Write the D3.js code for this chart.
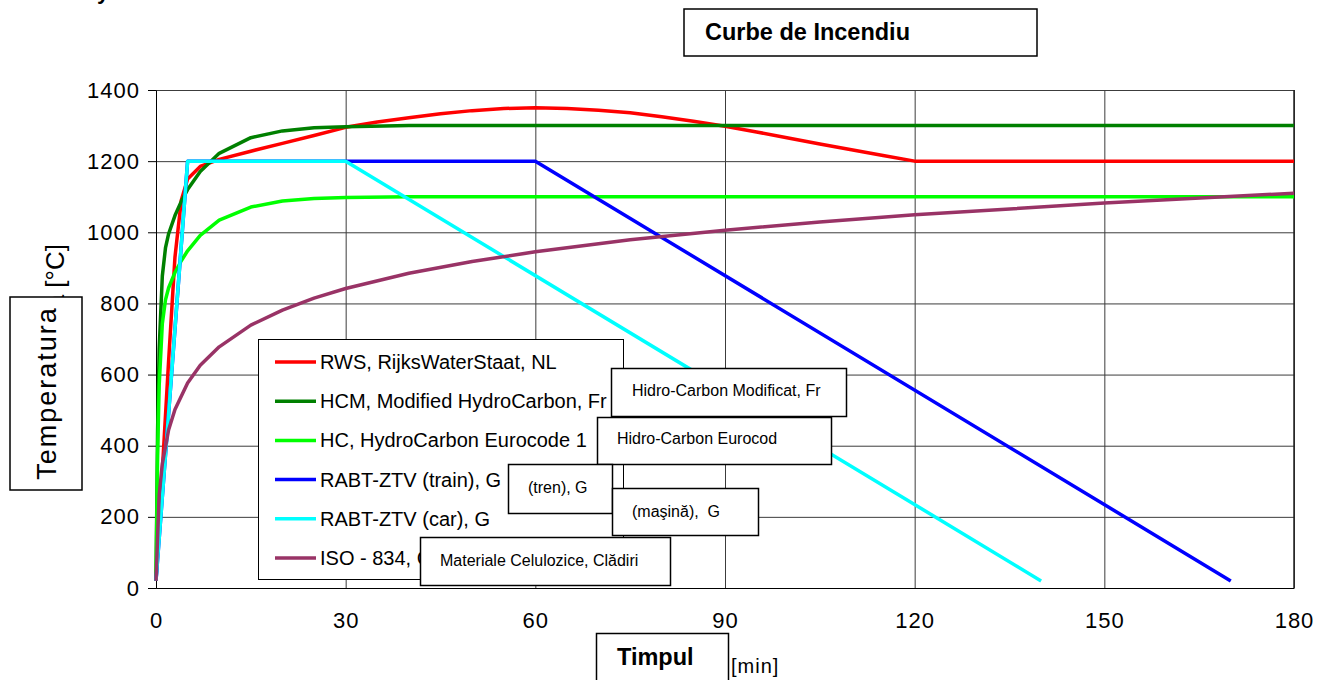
<!DOCTYPE html>
<html><head><meta charset="utf-8">
<script src="https://cdn.jsdelivr.net/npm/d3@7"></script>
<style>
body{margin:0;background:#fff;}
svg{display:block;font-family:Arial,"Liberation Sans",sans-serif;}
.pre{white-space:pre;}
</style>
</head><body>
<svg id="c" width="1325" height="680"></svg>
<script>
// ---------- data ----------
const timeTicks = [0, 30, 60, 90, 120, 150, 180];
const tempTicks = [0, 200, 400, 600, 800, 1000, 1200, 1400];

const seriesNames = [
  "RWS, RijksWaterStaat, NL",
  "HCM, Modified HydroCarbon, Fr",
  "HC, HydroCarbon Eurocode 1",
  "RABT-ZTV (train), G",
  "RABT-ZTV (car), G",
  "ISO - 834, Cellulosic"
];
const seriesColors = ["#ff0000", "#008000", "#00ff00", "#0000ff", "#00ffff", "#993366"];

const rwsTime = [0, 1, 2, 3, 4, 5, 7, 10, 15, 20, 25, 30, 35, 40, 45, 50, 55, 60, 65, 70, 75, 80, 85, 90, 95, 100, 105, 110, 115, 120, 180];
const rwsTemp = [20, 330, 640, 930, 1090, 1150, 1185, 1205, 1228, 1250, 1272, 1295, 1310, 1322, 1333, 1342, 1348, 1350, 1348, 1343, 1336, 1325, 1312, 1298, 1282, 1265, 1248, 1232, 1216, 1200, 1200];

const hcmTime = [0, 0.25, 0.5, 1, 1.5, 2, 3, 4, 5, 7, 10, 15, 20, 25, 30, 40, 180];
const hcmTemp = [20, 439, 670, 877, 956, 996, 1047, 1087, 1120, 1171, 1222, 1266, 1285, 1294, 1297, 1300, 1300];

const hcTime = [0, 0.25, 0.5, 1, 1.5, 2, 3, 4, 5, 7, 10, 15, 20, 25, 30, 40, 180];
const hcTemp = [20, 373, 568, 743, 810, 844, 887, 920, 948, 991, 1034, 1071, 1088, 1095, 1098, 1100, 1100];

const trainTime = [0, 5, 60, 170];
const trainTemp = [20, 1200, 1200, 20];

const carTime = [0, 5, 30, 140];
const carTemp = [20, 1200, 1200, 20];

const isoTime = [0, 0.5, 1, 2, 3, 5, 7, 10, 15, 20, 25, 30, 40, 50, 60, 75, 90, 105, 120, 150, 180];
const isoTemp = [20, 261, 349, 445, 502, 576, 626, 678, 739, 781, 815, 842, 885, 918, 945, 979, 1006, 1029, 1049, 1082, 1110];

const chartTitle = "Curbe de Incendiu";
const yTitle = "Temperatura";
const yUnitTitle = "Temperatura [°C]";
const xTitle = "Timpul";
const xUnit = "[min]";
const noteLabels = ["Hidro-Carbon Modificat, Fr", "Hidro-Carbon Eurocod", "(tren), G", "(maşină),  G", "Materiale Celulozice, Clădiri"];

// ---------- layout ----------
const L = 156, R = 1294, T = 90, B = 588;
const FONT = "Arial, 'Liberation Sans', sans-serif";
const noteBoxes = [
  {x: 611, y: 368, w: 235, h: 48, tx: 632, ty: 396},
  {x: 597, y: 417, w: 234, h: 47, tx: 617, ty: 444},
  {x: 508, y: 464, w: 104, h: 49, tx: 528, ty: 493},
  {x: 612, y: 488, w: 146, h: 47, tx: 632, ty: 517},
  {x: 420, y: 537, w: 250, h: 48, tx: 440, ty: 566}
];

const svg = d3.select("#c");
const x = d3.scaleLinear().domain([0, 180]).range([L, R]);
const y = d3.scaleLinear().domain([0, 1400]).range([B, T]);

// gridlines
const gy = svg.append("g").attr("transform", `translate(${L},0)`)
  .call(d3.axisLeft(y).tickValues(tempTicks).tickSize(-(R - L)).tickFormat(""));
gy.select(".domain").remove();
gy.selectAll("line").attr("stroke", "#3c3c3c").attr("stroke-width", 1);
const gx = svg.append("g").attr("transform", `translate(0,${B})`)
  .call(d3.axisBottom(x).tickValues(timeTicks).tickSize(-(B - T)).tickFormat(""));
gx.select(".domain").remove();
gx.selectAll("line").attr("stroke", "#3c3c3c").attr("stroke-width", 1);

// axes with labels
const ay = svg.append("g").attr("transform", `translate(${L},0)`)
  .call(d3.axisLeft(y).tickValues(tempTicks).tickFormat(d3.format("d")).tickSize(8).tickPadding(8).tickSizeOuter(0));
ay.select(".domain").attr("stroke", "#000");
ay.selectAll("line").attr("stroke", "#000");
ay.selectAll("text").attr("font-size", 22).attr("letter-spacing", "1px").attr("fill", "#000")
  .attr("font-family", FONT);

const ax = svg.append("g").attr("transform", `translate(0,${B})`)
  .call(d3.axisBottom(x).tickValues(timeTicks).tickFormat(d3.format("d")).tickSize(0).tickPadding(24).tickSizeOuter(0));
ax.select(".domain").attr("stroke", "#000");
ax.selectAll("text").attr("font-size", 22).attr("letter-spacing", "1px").attr("fill", "#000")
  .attr("font-family", FONT);

// right border
svg.append("line").attr("x1", R).attr("x2", R).attr("y1", T).attr("y2", B)
  .attr("stroke", "#222").attr("stroke-width", 1.5);

// series
const series = [
  d3.zip(rwsTime, rwsTemp),
  d3.zip(hcmTime, hcmTemp),
  d3.zip(hcTime, hcTemp),
  d3.zip(trainTime, trainTemp),
  d3.zip(carTime, carTemp),
  d3.zip(isoTime, isoTemp)
];
const line = d3.line().x(d => x(d[0])).y(d => y(d[1]));
svg.append("g").selectAll("path").data(series).join("path")
  .attr("d", line).attr("fill", "none")
  .attr("stroke", (d, i) => seriesColors[i])
  .attr("stroke-width", 3.5).attr("stroke-linejoin", "round");

// legend
const lg = svg.append("g");
lg.append("rect").attr("x", 258.5).attr("y", 339.5).attr("width", 365).attr("height", 240)
  .attr("fill", "#fff").attr("stroke", "#000").attr("stroke-width", 1);
const rows = lg.selectAll("g.row").data(seriesNames).join("g")
  .attr("transform", (d, i) => `translate(0,${362 + i * 39.2})`);
rows.append("line").attr("x1", 275).attr("x2", 316).attr("y1", 0).attr("y2", 0)
  .attr("stroke", (d, i) => seriesColors[i]).attr("stroke-width", 3.5);
rows.append("text").attr("x", 320).attr("y", 7).text(d => d)
  .attr("font-size", 20).attr("fill", "#000");

// note boxes
const nb = svg.append("g").selectAll("g").data(noteBoxes).join("g");
nb.append("rect").attr("x", d => d.x + 0.5).attr("y", d => d.y + 0.5)
  .attr("width", d => d.w).attr("height", d => d.h)
  .attr("fill", "#fff").attr("stroke", "#000").attr("stroke-width", 1.5);
nb.append("text").attr("class", "pre").attr("x", d => d.tx).attr("y", d => d.ty)
  .text((d, i) => noteLabels[i]).attr("font-size", 16).attr("fill", "#000");

// title
svg.append("rect").attr("x", 684).attr("y", 9).attr("width", 353).attr("height", 47)
  .attr("fill", "#fff").attr("stroke", "#000").attr("stroke-width", 1.5);
svg.append("text").attr("x", 705).attr("y", 40).text(chartTitle)
  .attr("font-size", 23.5).attr("font-weight", "bold");

// partial text at top-left
svg.append("text").attr("x", 97).attr("y", -1).text("y")
  .attr("font-size", 22).attr("font-weight", "bold");

// y title (long title mostly hidden behind box)
svg.append("text").attr("transform", "translate(64,244) rotate(-90)")
  .attr("text-anchor", "end").text(yUnitTitle).attr("font-size", 26);
svg.append("rect").attr("x", 10).attr("y", 297).attr("width", 72).attr("height", 193)
  .attr("fill", "#fff").attr("stroke", "#000").attr("stroke-width", 1.5);
svg.append("text").attr("transform", "translate(56,393) rotate(-90)")
  .attr("text-anchor", "middle").text(yTitle).attr("font-size", 27).attr("letter-spacing", "2px");

// x title
svg.append("rect").attr("x", 596.5).attr("y", 633.5).attr("width", 132).attr("height", 60)
  .attr("fill", "#fff").attr("stroke", "#000").attr("stroke-width", 1.5);
svg.append("text").attr("x", 617).attr("y", 665).text(xTitle)
  .attr("font-size", 23.5).attr("font-weight", "bold");
svg.append("text").attr("x", 731).attr("y", 673).text(xUnit)
  .attr("font-size", 20).attr("letter-spacing", "1px");
</script>
</body></html>
